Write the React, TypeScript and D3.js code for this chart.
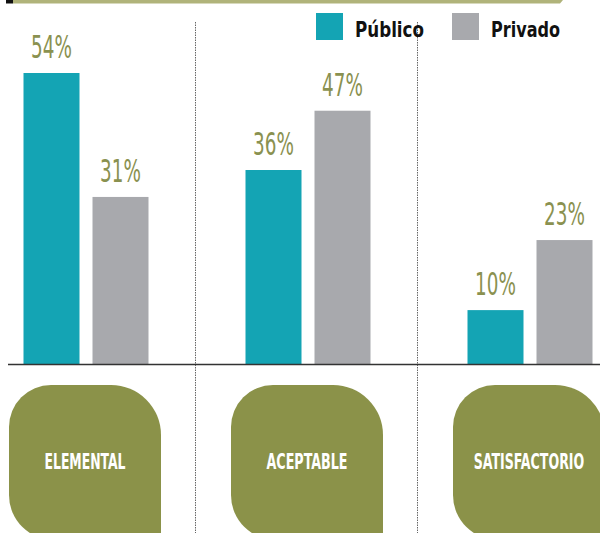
import React, { useEffect, useRef } from 'react'
import * as d3 from 'd3'

const categories = ['ELEMENTAL', 'ACEPTABLE', 'SATISFACTORIO']
const series = ['Público', 'Privado']
const publico = [54, 36, 10]
const privado = [31, 47, 23]

const colors: Record<string, string> = { 'Público': '#14a4b4', 'Privado': '#a8a9ad' }

export default function App() {
  const svgRef = useRef<SVGSVGElement>(null)

  useEffect(() => {
    const width = 600
    const height = 533
    const baseY = 364

    const svg = d3.select(svgRef.current)
    svg.selectAll('*').remove()
    svg.attr('width', width).attr('height', height)

    const data = categories.map((c, i) => ({ cat: c, values: [publico[i], privado[i]] }))

    // scales
    const x0 = d3.scaleBand().domain(categories).range([-25, 641])
    const x1 = d3.scaleBand().domain(series).range([-62.5, 62.5]).paddingInner(13 / 69)
    const y = d3.scaleLinear().domain([0, 54]).range([baseY, 73])
    const center = (c: string) => (x0(c) as number) + x0.bandwidth() / 2

    // top rule
    svg.append('rect').attr('x', 6).attr('y', 0).attr('width', 7).attr('height', 3.5).attr('fill', '#111')
    svg.append('path')
      .attr('d', 'M13,0 L563,0 L560,3.5 L13,3.5 Z')
      .attr('fill', '#b0b37a')

    // dotted dividers
    categories.slice(1).forEach(c => {
      const xx = Math.round(x0(c) as number) - 1.5
      svg.append('line')
        .attr('x1', xx).attr('x2', xx)
        .attr('y1', 22).attr('y2', height)
        .attr('stroke', '#666').attr('stroke-width', 1)
        .attr('stroke-dasharray', '1.5,1')
    })

    // bars
    const groups = svg.selectAll('.grp')
      .data(data)
      .join('g')
      .attr('class', 'grp')
      .attr('transform', d => `translate(${center(d.cat)},0)`)

    groups.selectAll('rect')
      .data(d => d.values.map((v, i) => ({ key: series[i], v })))
      .join('rect')
      .attr('x', d => x1(d.key) as number)
      .attr('y', d => y(d.v))
      .attr('width', x1.bandwidth())
      .attr('height', d => baseY + 1 - y(d.v))
      .attr('fill', d => colors[d.key])

    groups.selectAll('text.val')
      .data(d => d.values.map((v, i) => ({ key: series[i], v })))
      .join('text')
      .attr('class', 'val')
      .attr('x', d => (x1(d.key) as number) + x1.bandwidth() / 2)
      .attr('y', d => y(d.v) - 15)
      .attr('text-anchor', 'middle')
      .attr('font-family', '"DejaVu Sans Condensed", sans-serif')
      .attr('font-size', 32)
      .attr('fill', '#8a9150')
      .attr('textLength', d => `${d.v}%`.length * 13.6)
      .attr('lengthAdjust', 'spacingAndGlyphs')
      .text(d => `${d.v}%`)

    // baseline
    svg.append('line')
      .attr('x1', 8).attr('x2', width)
      .attr('y1', baseY + 0.5).attr('y2', baseY + 0.5)
      .attr('stroke', '#333').attr('stroke-width', 1.5)

    // category boxes
    const bw = 152
    const top = 385
    const bottom = 540
    const rTL = 42, rTR = 50, rBL = 45
    categories.forEach(c => {
      const l = center(c) - 1 - bw / 2
      const r = l + bw
      const p = d3.path()
      p.moveTo(l + rTL, top)
      p.arcTo(r, top, r, bottom, rTR)
      p.lineTo(r, bottom)
      p.arcTo(l, bottom, l, top, rBL)
      p.arcTo(l, top, r, top, rTL)
      p.closePath()
      svg.append('path').attr('d', p.toString()).attr('fill', '#8b9249')

      svg.append('text')
        .attr('x', center(c) - 1)
        .attr('y', 469)
        .attr('text-anchor', 'middle')
        .attr('font-family', '"DejaVu Sans Condensed", sans-serif')
        .attr('font-weight', 'bold')
        .attr('font-size', 21)
        .attr('fill', '#ffffff')
        .attr('textLength', c.length * (c.length > 10 ? 8.5 : 9))
        .attr('lengthAdjust', 'spacingAndGlyphs')
        .text(c)
    })

    // legend
    const legendX = d3.scaleOrdinal<string, number>().domain(series).range([316, 452])
    series.forEach(s => {
      const lx = legendX(s)
      svg.append('rect')
        .attr('x', lx).attr('y', 13)
        .attr('width', 27).attr('height', 27)
        .attr('fill', colors[s])
      svg.append('text')
        .attr('x', lx + 39)
        .attr('y', 37)
        .attr('font-family', '"DejaVu Sans Condensed", sans-serif')
        .attr('font-weight', 'bold')
        .attr('font-size', 21)
        .attr('fill', '#111')
        .attr('textLength', 69)
        .attr('lengthAdjust', 'spacingAndGlyphs')
        .text(s)
    })
  }, [])

  return (
    <svg ref={svgRef} style={{ position: 'absolute', left: 0, top: 0, display: 'block' }}></svg>
  )
}
